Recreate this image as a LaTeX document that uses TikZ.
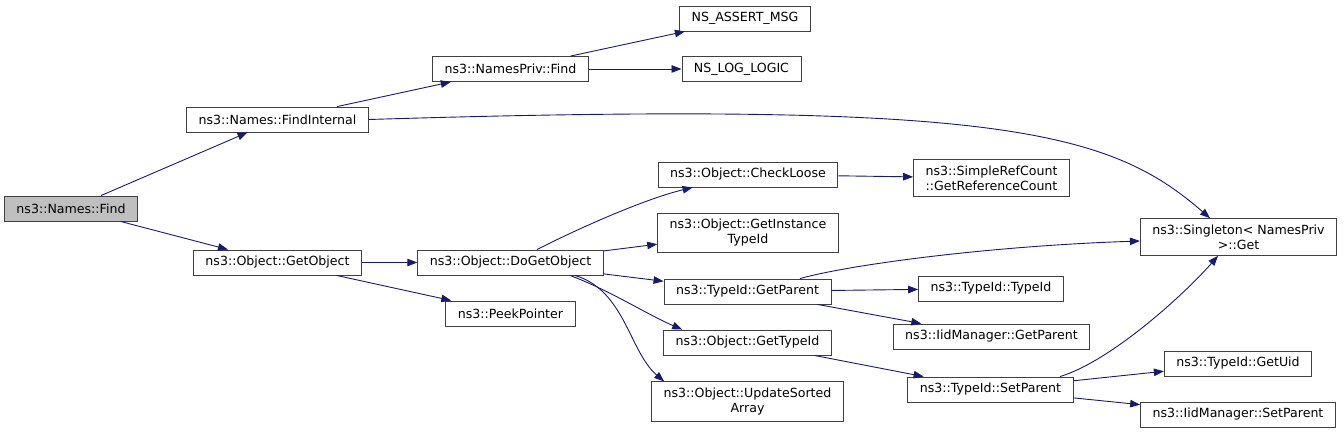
\documentclass[tikz,border=0pt]{standalone}
\usepackage{fontspec}
\setmainfont{DejaVu Sans}
\usetikzlibrary{arrows.meta}
\definecolor{CGedge}{RGB}{25,25,112}
\definecolor{CGline}{RGB}{64,64,64}
\definecolor{CGroot}{RGB}{191,191,191}
\tikzset{
  fn/.style={draw=CGline,line width=0.9pt,fill=white,align=center,
             inner xsep=12pt,inner ysep=6pt,minimum height=25pt,
             font=\fontsize{12.6}{15}\selectfont},
  root/.style={fn,fill=CGroot},
  call/.style={-{Triangle[length=10pt,width=7.5pt]},line width=0.9pt,draw=CGedge},
}

\begin{document}
\begin{tikzpicture}[x=1pt,y=-1pt]
    \useasboundingbox (0,0) rectangle (1344,433);
    \node[root] (find) at (71,208.5) {ns3::Names::Find};
    \node[fn] (findint) at (277.5,119.5) {ns3::Names::FindInternal};
    \node[fn] (npfind) at (510.5,69) {ns3::NamesPriv::Find};
    \node[fn] (assert) at (745,18.5) {NS\_ASSERT\_MSG};
    \node[fn] (loglogic) at (741.5,69) {NS\_LOG\_LOGIC};
    \node[fn] (getobj) at (277.5,262.5) {ns3::Object::GetObject};
    \node[fn] (dogo) at (510.5,262.5) {ns3::Object::DoGetObject};
    \node[fn] (peek) at (510.5,313.5) {ns3::PeekPointer};
    \node[fn] (check) at (748,174.5) {ns3::Object::CheckLoose};
    \node[fn] (gitid) at (748,233) {ns3::Object::GetInstance\\TypeId};
    \node[fn] (gparent) at (747.5,291.5) {ns3::TypeId::GetParent};
    \node[fn] (gtid) at (747.5,342.5) {ns3::Object::GetTypeId};
    \node[fn] (usa) at (747.5,401.5) {ns3::Object::UpdateSorted\\Array};
    \node[fn] (refcount) at (991.5,178) {ns3::SimpleRefCount\\::GetReferenceCount};
    \node[fn] (sget) at (1238.5,237) {ns3::Singleton< NamesPriv\\ >::Get};
    \node[fn] (tidtid) at (991,288.5) {ns3::TypeId::TypeId};
    \node[fn] (iidgp) at (991.5,336.5) {ns3::IidManager::GetParent};
    \node[fn] (setpar) at (990.5,389.5) {ns3::TypeId::SetParent};
    \node[fn] (guid) at (1238,363.5) {ns3::TypeId::GetUid};
    \node[fn] (iidsp) at (1238,414.5) {ns3::IidManager::SetParent};
    \draw[call] (find) -- (findint);
    \draw[call] (find) -- (getobj);
    \draw[call] (findint) -- (npfind);
    \draw[call] (findint.east) .. controls +(631,-19.5) and +(-100,-87) .. ([xshift=-28.5pt]sget.north);
    \draw[call] (npfind) -- (assert);
    \draw[call] (npfind) -- (loglogic);
    \draw[call] (getobj) -- (dogo);
    \draw[call] (getobj) -- (peek);
    \draw[call] ([xshift=26.5pt]dogo.north) .. controls +(35,-18) and +(-50,12) .. ([xshift=35pt]check.south west);
    \draw[call] (dogo) -- (gitid);
    \draw[call] (dogo) -- (gparent);
    \draw[call] ([xshift=59.5pt]dogo.south) .. controls +(40,15) and +(-35,-15) .. ([xshift=19pt]gtid.north west);
    \draw[call] ([xshift=64.5pt]dogo.south) .. controls +(50,15) and +(-35,-30) .. ([xshift=13pt]usa.north west);
    \draw[call] (check) -- (refcount);
    \draw[call] ([xshift=52.5pt]gparent.north) .. controls +(50,-14) and +(-150,5) .. ([yshift=-4pt]sget.west);
    \draw[call] (gparent) -- (tidtid);
    \draw[call] (gparent) -- (iidgp);
    \draw[call] (gtid) -- (setpar);
    \draw[call] ([xshift=69.5pt]setpar.north) .. controls +(50,-15) and +(-35,40) .. ([xshift=-20.5pt]sget.south);
    \draw[call] (setpar) -- (guid);
    \draw[call] (setpar) -- (iidsp);
\end{tikzpicture}
\end{document}
